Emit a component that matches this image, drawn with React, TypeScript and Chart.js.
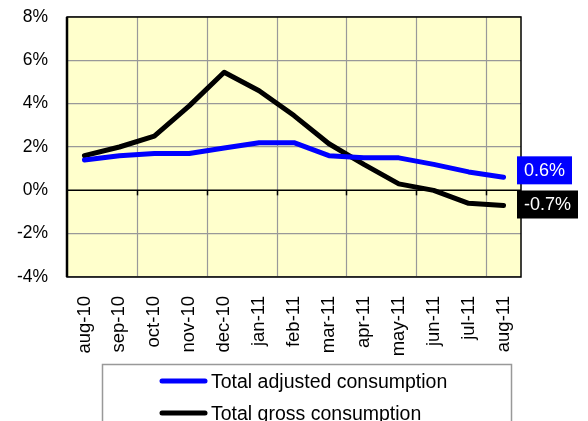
import React, { useEffect, useRef } from 'react';
import { Chart, registerables } from 'chart.js';
Chart.register(...registerables);

const categories = ['aug-10', 'sep-10', 'oct-10', 'nov-10', 'dec-10', 'jan-11', 'feb-11', 'mar-11', 'apr-11', 'may-11', 'jun-11', 'jul-11', 'aug-11'];
const adjusted = [1.4, 1.6, 1.7, 1.7, 1.95, 2.2, 2.2, 1.6, 1.5, 1.5, 1.2, 0.85, 0.6];
const gross = [1.6, 2.0, 2.5, 3.9, 5.45, 4.6, 3.45, 2.15, 1.2, 0.3, 0.0, -0.6, -0.7];
const yTicks = [-4, -2, 0, 2, 4, 6, 8];
const endLabels = ['0.6%', '-0.7%'];
const seriesNames = ['Total adjusted consumption', 'Total gross consumption'];
const seriesColors = ['#0000FF', '#000000'];

const FONT = '"Liberation Sans", Arial, sans-serif';

const decorPlugin = {
  id: 'decor',
  beforeDraw(chart: any) {
    const { ctx, chartArea: a } = chart;
    ctx.save();
    ctx.fillStyle = '#FFFFCC';
    ctx.fillRect(a.left, a.top, a.right - a.left, a.bottom - a.top);
    ctx.restore();
  },
  beforeDatasetsDraw(chart: any) {
    const { ctx, chartArea: a } = chart;
    const xs = chart.scales.x;
    const ys = chart.scales.y;
    const y0 = ys.getPixelForValue(0);
    ctx.save();
    for (let i = 1; i < categories.length - 1; i += 2) {
      const bx = Math.round((xs.getPixelForTick(i) + xs.getPixelForTick(i + 1)) / 2) + 0.5;
      ctx.strokeStyle = '#999999';
      ctx.lineWidth = 1.2;
      ctx.beginPath();
      ctx.moveTo(bx, a.top);
      ctx.lineTo(bx, a.bottom);
      ctx.stroke();
      ctx.strokeStyle = '#000000';
      ctx.lineWidth = 1.5;
      ctx.beginPath();
      ctx.moveTo(bx, y0);
      ctx.lineTo(bx, y0 + 5);
      ctx.stroke();
    }
    ctx.strokeStyle = '#000000';
    ctx.lineWidth = 1.5;
    ctx.beginPath();
    ctx.moveTo(a.left, y0);
    ctx.lineTo(a.right, y0);
    ctx.stroke();
    ctx.restore();
  },
  afterDraw(chart: any) {
    const { ctx, chartArea: a } = chart;
    const ys = chart.scales.y;
    ctx.save();
    ctx.strokeStyle = '#000000';
    ctx.lineWidth = 1.5;
    ctx.strokeRect(a.left, a.top, a.right - a.left, a.bottom - a.top);
    ctx.lineWidth = 2.5;
    ctx.beginPath();
    ctx.moveTo(a.left, a.top);
    ctx.lineTo(a.left, a.bottom);
    ctx.stroke();

    const last = categories.length - 1;
    const series = [adjusted, gross];
    const offsets = [-7, -1];
    const widths = [55, 61];
    ctx.font = '18px ' + FONT;
    ctx.textBaseline = 'middle';
    ctx.textAlign = 'center';
    series.forEach((s, i) => {
      const cy = ys.getPixelForValue(s[last]) + offsets[i];
      const lx = a.right - 4;
      ctx.fillStyle = seriesColors[i];
      ctx.fillRect(lx, cy - 14, widths[i], 28);
      ctx.fillStyle = '#FFFFFF';
      ctx.fillText(endLabels[i], lx + widths[i] / 2, cy + 1);
    });

    ctx.strokeStyle = '#999999';
    ctx.lineWidth = 1.5;
    ctx.strokeRect(102.5, 364.5, 409, 80);
    ctx.font = '19.5px ' + FONT;
    ctx.textAlign = 'left';
    ctx.textBaseline = 'middle';
    const rows = [381, 413];
    seriesNames.forEach((n, i) => {
      ctx.strokeStyle = seriesColors[i];
      ctx.lineWidth = 5;
      ctx.lineCap = 'round';
      ctx.beginPath();
      ctx.moveTo(162, rows[i]);
      ctx.lineTo(205, rows[i]);
      ctx.stroke();
      ctx.fillStyle = '#000000';
      ctx.fillText(n, 211, rows[i] + 2);
    });
    ctx.restore();
  },
};

export default function App() {
  const ref = useRef<HTMLCanvasElement | null>(null);
  useEffect(() => {
    if (!ref.current) return;
    const chart = new Chart(ref.current, {
      type: 'line',
      data: {
        labels: categories,
        datasets: [
          {
            label: seriesNames[0],
            data: adjusted,
            borderColor: seriesColors[0],
            borderWidth: 5,
            pointRadius: 0,
            tension: 0,
            borderCapStyle: 'round',
            borderJoinStyle: 'round',
          },
          {
            label: seriesNames[1],
            data: gross,
            borderColor: seriesColors[1],
            borderWidth: 5,
            pointRadius: 0,
            tension: 0,
            borderCapStyle: 'round',
            borderJoinStyle: 'round',
          },
        ],
      },
      options: {
        responsive: false,
        animation: false,
        devicePixelRatio: 1,
        layout: { padding: { top: 17, right: 67, left: 0, bottom: 0 } },
        plugins: { legend: { display: false }, tooltip: { enabled: false } },
        scales: {
          x: {
            offset: true,
            border: { display: false },
            grid: { display: false, drawTicks: false },
            ticks: {
              autoSkip: false,
              minRotation: 90,
              maxRotation: 90,
              padding: 19,
              color: '#000000',
              font: { family: FONT, size: 18.5 },
            },
            afterFit(scale: any) {
              scale.height = 144;
              scale.paddingLeft = 0;
              scale.paddingRight = 0;
            },
          },
          y: {
            min: yTicks[0],
            max: yTicks[yTicks.length - 1],
            border: { display: false },
            grid: {
              drawTicks: false,
              color: (c: any) => (c.tick && c.tick.value === 0 ? 'rgba(0,0,0,0)' : '#999999'),
              lineWidth: 1.2,
            },
            ticks: {
              stepSize: 2,
              padding: 19,
              color: '#000000',
              font: { family: FONT, size: 17.5 },
              callback: (v: any) => v + '%',
            },
            afterFit(scale: any) {
              scale.width = 67;
              scale.paddingTop = 0;
              scale.paddingBottom = 0;
            },
          },
        },
      },
      plugins: [decorPlugin],
    });
    return () => chart.destroy();
  }, []);
  return (
    <div style={{ position: 'fixed', left: 0, top: 0, width: 588, height: 421, background: '#fff' }}>
      <canvas ref={ref} width={588} height={421} style={{ width: 588, height: 421, display: 'block' }} />
    </div>
  );
}
